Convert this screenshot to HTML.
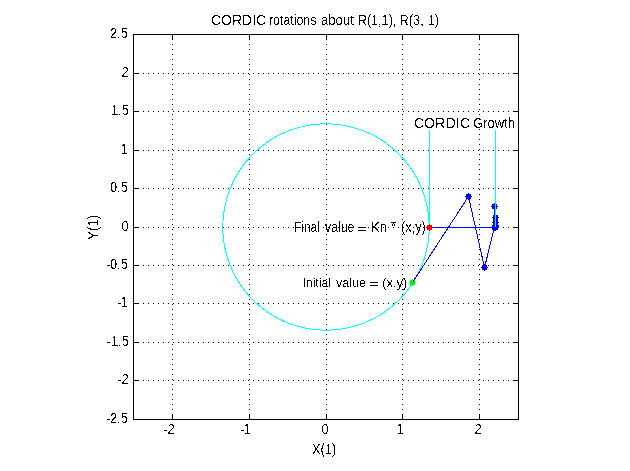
<!DOCTYPE html>
<html><head><meta charset="utf-8"><style>
html,body{margin:0;padding:0;background:#fff;width:630px;height:471px;overflow:hidden}
svg{display:block;will-change:transform}
text{font-family:"Liberation Sans",sans-serif;fill:#000}
</style></head><body>
<svg width="630" height="471" viewBox="0 0 630 471">
<g shape-rendering="crispEdges">
<path d="M172.5 34V420M249.5 34V420M326.5 34V420M402.5 34V420M479.5 34V420M133 73.5H519M133 111.5H519M133 150.5H519M133 188.5H519M133 227.5H519M133 265.5H519M133 303.5H519M133 342.5H519M133 380.5H519" stroke="#000" stroke-width="1" stroke-dasharray="1 4" fill="none"/>
<path d="M172.5 414V419M172.5 35V40M249.5 414V419M249.5 35V40M326.5 414V419M326.5 35V40M402.5 414V419M402.5 35V40M479.5 414V419M479.5 35V40M134 73.5H139M513 73.5H518M134 111.5H139M513 111.5H518M134 150.5H139M513 150.5H518M134 188.5H139M513 188.5H518M134 227.5H139M513 227.5H518M134 265.5H139M513 265.5H518M134 303.5H139M513 303.5H518M134 342.5H139M513 342.5H518M134 380.5H139M513 380.5H518" stroke="#000" stroke-width="1" fill="none"/>
<rect x="133.5" y="34.5" width="385" height="385" stroke="#000" stroke-width="1" fill="none"/>
<circle cx="326" cy="227" r="103.25" stroke="#0ff" stroke-width="1" fill="none"/>
<rect x="412" y="279" width="1" height="1" fill="#0f0"/><rect x="410" y="280" width="5" height="2" fill="#0f0"/><rect x="409" y="282" width="7" height="1" fill="#0f0"/><rect x="410" y="283" width="5" height="2" fill="#0f0"/><rect x="412" y="285" width="1" height="1" fill="#0f0"/>
<path d="M412.5 282.5 L468.5 196.5 L484.5 267.5 L494.5 227.5 L494.5 206.5 L495.5 217.5 L495.5 222.5 L495.5 225.5 L495.5 226.5 L495.5 227.5 L429.5 227.5" stroke="#00f" stroke-width="1" fill="none"/>
<rect x="468" y="193" width="1" height="1" fill="#00f"/><rect x="466" y="194" width="5" height="2" fill="#00f"/><rect x="465" y="196" width="7" height="1" fill="#00f"/><rect x="466" y="197" width="5" height="2" fill="#00f"/><rect x="468" y="199" width="1" height="1" fill="#00f"/>
<rect x="484" y="264" width="1" height="1" fill="#00f"/><rect x="482" y="265" width="5" height="2" fill="#00f"/><rect x="481" y="267" width="7" height="1" fill="#00f"/><rect x="482" y="268" width="5" height="2" fill="#00f"/><rect x="484" y="270" width="1" height="1" fill="#00f"/>
<rect x="494" y="224" width="1" height="1" fill="#00f"/><rect x="492" y="225" width="5" height="2" fill="#00f"/><rect x="491" y="227" width="7" height="1" fill="#00f"/><rect x="492" y="228" width="5" height="2" fill="#00f"/><rect x="494" y="230" width="1" height="1" fill="#00f"/>
<rect x="494" y="203" width="1" height="1" fill="#00f"/><rect x="492" y="204" width="5" height="2" fill="#00f"/><rect x="491" y="206" width="7" height="1" fill="#00f"/><rect x="492" y="207" width="5" height="2" fill="#00f"/><rect x="494" y="209" width="1" height="1" fill="#00f"/>
<rect x="495" y="214" width="1" height="1" fill="#00f"/><rect x="493" y="215" width="5" height="2" fill="#00f"/><rect x="492" y="217" width="7" height="1" fill="#00f"/><rect x="493" y="218" width="5" height="2" fill="#00f"/><rect x="495" y="220" width="1" height="1" fill="#00f"/>
<rect x="495" y="219" width="1" height="1" fill="#00f"/><rect x="493" y="220" width="5" height="2" fill="#00f"/><rect x="492" y="222" width="7" height="1" fill="#00f"/><rect x="493" y="223" width="5" height="2" fill="#00f"/><rect x="495" y="225" width="1" height="1" fill="#00f"/>
<rect x="495" y="222" width="1" height="1" fill="#00f"/><rect x="493" y="223" width="5" height="2" fill="#00f"/><rect x="492" y="225" width="7" height="1" fill="#00f"/><rect x="493" y="226" width="5" height="2" fill="#00f"/><rect x="495" y="228" width="1" height="1" fill="#00f"/>
<rect x="495" y="223" width="1" height="1" fill="#00f"/><rect x="493" y="224" width="5" height="2" fill="#00f"/><rect x="492" y="226" width="7" height="1" fill="#00f"/><rect x="493" y="227" width="5" height="2" fill="#00f"/><rect x="495" y="229" width="1" height="1" fill="#00f"/>
<rect x="495" y="224" width="1" height="1" fill="#00f"/><rect x="493" y="225" width="5" height="2" fill="#00f"/><rect x="492" y="227" width="7" height="1" fill="#00f"/><rect x="493" y="228" width="5" height="2" fill="#00f"/><rect x="495" y="230" width="1" height="1" fill="#00f"/>
<path d="M429.5 130V227M495.5 130V227" stroke="#0ff" stroke-width="1" fill="none"/>
<rect x="429" y="224" width="1" height="1" fill="#f00"/><rect x="427" y="225" width="5" height="2" fill="#f00"/><rect x="426" y="227" width="7" height="1" fill="#f00"/><rect x="427" y="228" width="5" height="2" fill="#f00"/><rect x="429" y="230" width="1" height="1" fill="#f00"/>
<rect x="391" y="222" width="5" height="1" fill="#000"/><rect x="393" y="223" width="1" height="1" fill="#000"/><rect x="392" y="224" width="1" height="2" fill="#000"/><rect x="394" y="224" width="1" height="2" fill="#000"/><rect x="107" y="265" width="3" height="1" fill="#000"/><rect x="118" y="303" width="3" height="1" fill="#000"/><rect x="107" y="342" width="3" height="1" fill="#000"/><rect x="118" y="380" width="3" height="1" fill="#000"/><rect x="107" y="419" width="3" height="1" fill="#000"/><rect x="164" y="430" width="3" height="1" fill="#000"/><rect x="241" y="430" width="3" height="1" fill="#000"/>
</g>
<defs><filter id="bin" x="0" y="0" width="630" height="471" filterUnits="userSpaceOnUse" color-interpolation-filters="sRGB"><feComponentTransfer><feFuncA type="discrete" tableValues="0 1"/></feComponentTransfer></filter></defs><g filter="url(#bin)">
<text x="211.0" y="25" font-size="14" textLength="55.23" lengthAdjust="spacingAndGlyphs">CORDIC</text>
<text x="269.0" y="25" font-size="14" textLength="47.39" lengthAdjust="spacingAndGlyphs">rotations</text>
<text x="320.9" y="25" font-size="14" textLength="32.92" lengthAdjust="spacingAndGlyphs">about</text>
<text x="357.8" y="25" font-size="14" textLength="38.55" lengthAdjust="spacingAndGlyphs">R(1,1),</text>
<text x="399.6" y="25" font-size="14" textLength="24.15" lengthAdjust="spacingAndGlyphs">R(3,</text>
<text x="427.9" y="25" font-size="14" textLength="11.07" lengthAdjust="spacingAndGlyphs">1)</text>
<text x="109.9" y="38" font-size="14" textLength="17.91" lengthAdjust="spacingAndGlyphs">2.5</text>
<text x="121.4" y="77" font-size="14" textLength="7.17" lengthAdjust="spacingAndGlyphs">2</text>
<text x="110.9" y="115" font-size="14" textLength="17.91" lengthAdjust="spacingAndGlyphs">1.5</text>
<text x="120.7" y="154" font-size="14" textLength="7.17" lengthAdjust="spacingAndGlyphs">1</text>
<text x="109.9" y="192" font-size="14" textLength="17.91" lengthAdjust="spacingAndGlyphs">0.5</text>
<text x="121.4" y="231" font-size="14" textLength="7.17" lengthAdjust="spacingAndGlyphs">0</text>
<text x="109.9" y="269" font-size="14" textLength="17.91" lengthAdjust="spacingAndGlyphs">0.5</text>
<text x="120.7" y="307" font-size="14" textLength="7.17" lengthAdjust="spacingAndGlyphs">1</text>
<text x="110.9" y="346" font-size="14" textLength="17.91" lengthAdjust="spacingAndGlyphs">1.5</text>
<text x="121.4" y="384" font-size="14" textLength="7.17" lengthAdjust="spacingAndGlyphs">2</text>
<text x="109.9" y="423" font-size="14" textLength="17.91" lengthAdjust="spacingAndGlyphs">2.5</text>
<text x="167.4" y="434" font-size="14" textLength="7.17" lengthAdjust="spacingAndGlyphs">2</text>
<text x="243.7" y="434" font-size="14" textLength="7.17" lengthAdjust="spacingAndGlyphs">1</text>
<text x="321.4" y="434" font-size="14" textLength="7.17" lengthAdjust="spacingAndGlyphs">0</text>
<text x="396.7" y="434" font-size="14" textLength="7.17" lengthAdjust="spacingAndGlyphs">1</text>
<text x="474.4" y="434" font-size="14" textLength="7.17" lengthAdjust="spacingAndGlyphs">2</text>
<text x="312.1" y="454" font-size="14" textLength="24.15" lengthAdjust="spacingAndGlyphs">X(1)</text>
<text x="413.7" y="128" font-size="14" textLength="56.30" lengthAdjust="spacingAndGlyphs">CORDIC</text>
<text x="473.0" y="128" font-size="14" textLength="41.90" lengthAdjust="spacingAndGlyphs">Growth</text>
<text x="294.0" y="232" font-size="14" textLength="25.86" lengthAdjust="spacingAndGlyphs">Final</text>
<text x="325.0" y="232" font-size="14" textLength="29.29" lengthAdjust="spacingAndGlyphs">value</text>
<text x="356.9" y="233" font-size="12" textLength="9.55" lengthAdjust="spacingAndGlyphs">=</text>
<text x="371.0" y="232" font-size="14" textLength="15.90" lengthAdjust="spacingAndGlyphs">Kn</text>
<text x="400.9" y="232" font-size="14" textLength="24.95" lengthAdjust="spacingAndGlyphs">(x,y)</text>
<text x="302.6" y="287" font-size="13" textLength="28.24" lengthAdjust="spacingAndGlyphs">Initial</text>
<text x="336.1" y="287" font-size="13" textLength="30.01" lengthAdjust="spacingAndGlyphs">value</text>
<text x="368.9" y="288" font-size="13" textLength="9.30" lengthAdjust="spacingAndGlyphs">=</text>
<text x="382.1" y="287" font-size="13" textLength="25.28" lengthAdjust="spacingAndGlyphs">(x,y)</text>
<text x="-240.0" y="98" font-size="14" textLength="25.30" lengthAdjust="spacingAndGlyphs" transform="rotate(-90)">Y(1)</text>
</g>
</svg>
</body></html>
